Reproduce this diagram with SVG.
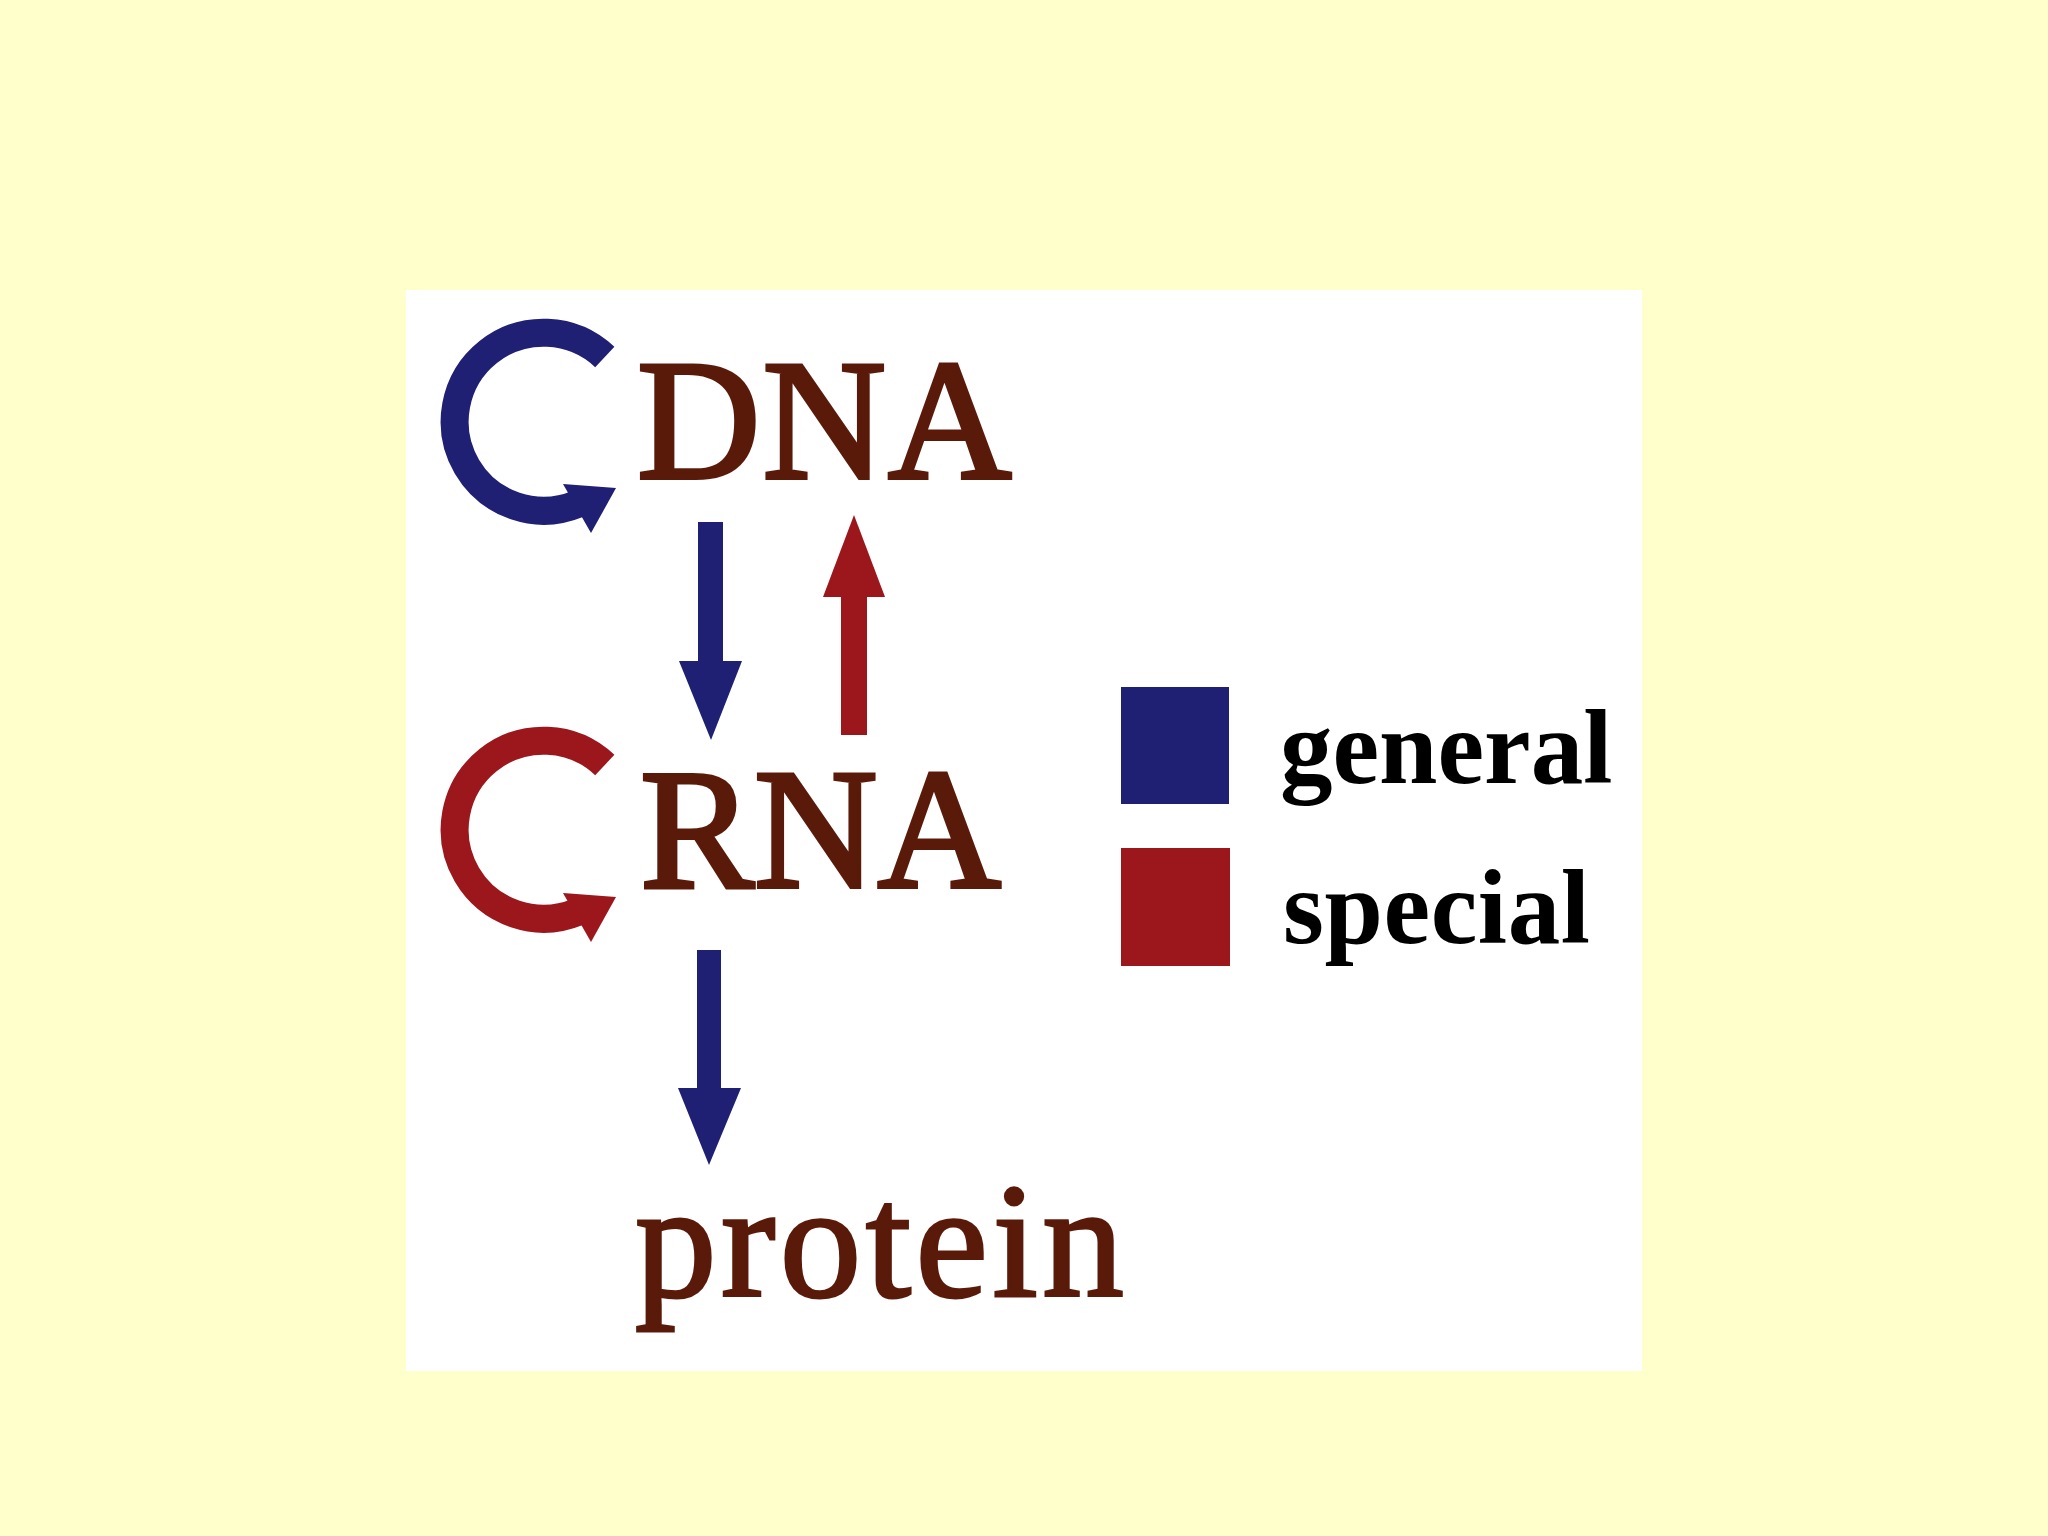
<svg xmlns="http://www.w3.org/2000/svg" width="2048" height="1536" viewBox="0 0 2048 1536">
<style>
.blue{fill:#1f1f73}
.red{fill:#9b171c}
.ringB{fill:none;stroke:#1f1f73;stroke-width:28}
.ringR{fill:none;stroke:#9b171c;stroke-width:28}
</style>
<rect x="0" y="0" width="2048" height="1536" fill="#ffffcc"/>
<rect x="406" y="290" width="1236" height="1081" fill="#ffffff"/>

<g id="connectors">
  <g id="dna-replication">
    <path class="ringB" d="M604.8,357 A89,89 0 1 0 577.5,504"/>
    <polygon class="blue" points="563,484 591,533 616,488"/>
  </g>
  <g id="rna-replication">
    <path class="ringR" d="M604.8,765 A89,89 0 1 0 577.5,912"/>
    <polygon class="red" points="563,893 591,942 616,897"/>
  </g>
  <g id="transcription">
    <rect class="blue" x="698" y="522" width="25" height="140"/>
    <polygon class="blue" points="679,661 742,661 711,740"/>
  </g>
  <g id="reverse-transcription">
    <rect class="red" x="841" y="596" width="26" height="139"/>
    <polygon class="red" points="823,597 885,597 854,515"/>
  </g>
  <g id="translation">
    <rect class="blue" x="697" y="950" width="24" height="139"/>
    <polygon class="blue" points="678,1088 741,1088 709,1165"/>
  </g>
</g>

<g id="node-dna">
  <text x="637" y="478" font-family="Liberation Serif" font-size="171" fill="#5a1a0a" stroke="#5a1a0a" stroke-width="4" letter-spacing="2">DNA</text>
</g>
<g id="node-rna">
  <text x="640" y="887" font-family="Liberation Serif" font-size="171" fill="#5a1a0a" stroke="#5a1a0a" stroke-width="4">RNA</text>
</g>
<g id="node-protein">
  <text x="635" y="1296" font-family="Liberation Serif" font-size="163" fill="#5a1a0a" stroke="#5a1a0a" stroke-width="3" letter-spacing="4.5">protein</text>
</g>

<g id="legend">
  <g id="legend-general">
    <rect class="blue" x="1121" y="687" width="108" height="117"/>
    <text x="1280" y="783" font-family="Liberation Serif" font-weight="bold" font-size="105" fill="#000">general</text>
  </g>
  <g id="legend-special">
    <rect class="red" x="1121" y="848" width="109" height="118"/>
    <text x="1283" y="943" font-family="Liberation Serif" font-weight="bold" font-size="105" fill="#000" letter-spacing="0.6">special</text>
  </g>
</g>
</svg>
